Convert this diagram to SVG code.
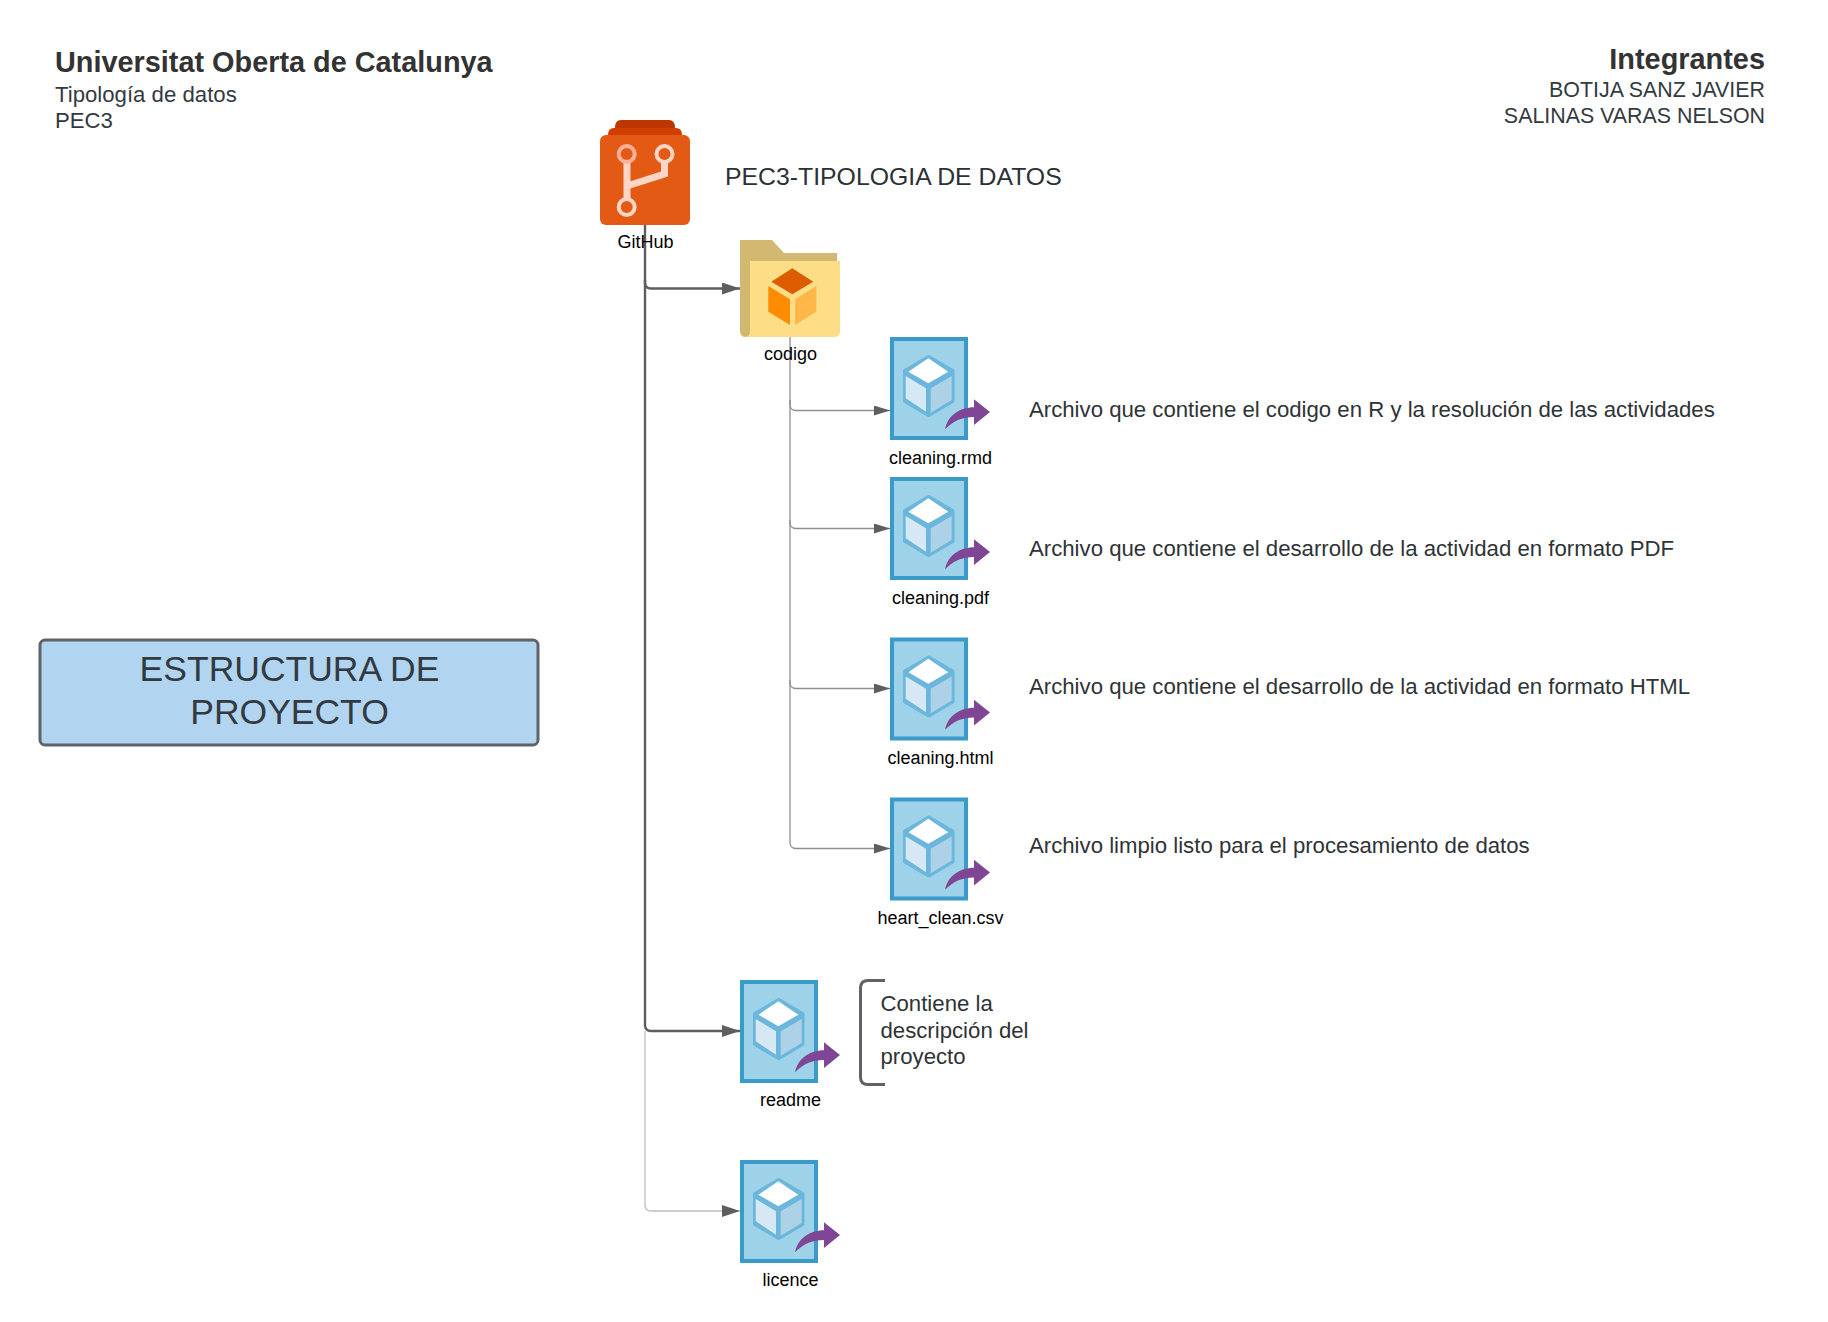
<svg xmlns="http://www.w3.org/2000/svg" xmlns:xlink="http://www.w3.org/1999/xlink" width="1828" height="1322" viewBox="0 0 1828 1322">
<style>
text{font-family:"Liberation Sans",Arial,sans-serif;fill:#333a3f}
.lab{font-size:18px;fill:#000;text-anchor:middle}
.desc{font-size:22.200px;fill:#2f3336}
.conn{fill:none}
.thick{stroke:#5e5e5e;stroke-width:2.4}
.thin{stroke:#8f8f8f;stroke-width:1.3}
.light{stroke:#bdbdbd;stroke-width:1.3}
</style>
<defs>
<marker id="ah" viewBox="0 0 18 12" refX="18" refY="6" markerUnits="userSpaceOnUse" markerWidth="18" markerHeight="12" orient="auto"><path d="M0 0L18 6L0 12Z" fill="#5e5e5e"/></marker>
<marker id="ahs" viewBox="0 0 16 10" refX="16" refY="5" markerUnits="userSpaceOnUse" markerWidth="16" markerHeight="10" orient="auto"><path d="M0 0L16 5L0 10Z" fill="#5e5e5e"/></marker>
<g id="file">
<rect x="2" y="2" width="74" height="99" fill="#9dd2e9" stroke="#3a9ac9" stroke-width="4"/>
<path d="M38.700 20L62.500 34V64L38.700 78L15 64V34Z" fill="#6bb6dc" stroke="#6bb6dc" stroke-width="4" stroke-linejoin="round"/>
<path d="M38.300 21.300L58.300 34.700L38.300 46.300L18.300 34.700Z" fill="#fff"/>
<path d="M15.700 39L36 51.300V74.700L15.700 61.300Z" fill="#d6e8f3"/>
<path d="M40.700 51.300L61.700 39V63L40.700 75.700Z" fill="#add1e7"/>
<path d="M55 92.300C58 78 70 70.500 84 70.300V62.300L100 75L84 88V80C72 80 63 84 55 92.300Z" fill="#7f4696"/>
</g>
</defs>
<rect width="1828" height="1322" fill="#fff"/>
<g id="connectors" class="conn">
<path class="light" d="M645 1031V1205Q645 1211 651 1211H740" marker-end="url(#ah)"/>
<path class="thin" d="M790 337V404.500Q790 410.500 796 410.500H890" marker-end="url(#ahs)"/>
<path class="thin" d="M790 400V522.500Q790 528.500 796 528.500H890" marker-end="url(#ahs)"/>
<path class="thin" d="M790 520V682.500Q790 688.500 796 688.500H890" marker-end="url(#ahs)"/>
<path class="thin" d="M790 680V842.500Q790 848.500 796 848.500H890" marker-end="url(#ahs)"/>
<path class="thick" d="M645 225V282.500Q645 288.500 651 288.500H740" marker-end="url(#ah)"/>
<path class="thick" d="M645 280V1025Q645 1031 651 1031H740" marker-end="url(#ah)"/>
</g>
<g id="header-left">
<text x="55" y="72" font-size="28.850" font-weight="700" style="fill:#333">Universitat Oberta de Catalunya</text>
<text x="55" y="102" font-size="22.200">Tipología de datos</text>
<text x="55" y="128" font-size="22.200">PEC3</text>
</g>
<g id="header-right" text-anchor="end">
<text x="1765" y="68.500" font-size="28.900" font-weight="700" style="fill:#333">Integrantes</text>
<text x="1765" y="97" font-size="21.400">BOTIJA SANZ JAVIER</text>
<text x="1765" y="123" font-size="21.400">SALINAS VARAS NELSON</text>
</g>
<g id="title-box">
<rect x="40" y="640" width="498" height="105" rx="5" fill="#b1d5f0" stroke="#5f6266" stroke-width="3"/>
<text x="289.500" y="680.500" font-size="35.500" text-anchor="middle">ESTRUCTURA DE</text>
<text x="289.500" y="723.500" font-size="35.500" text-anchor="middle">PROYECTO</text>
</g>
<g id="github">
<path d="M615 128Q615 120 621 120H669Q675 120 675 128V135H615Z" fill="#bf3500"/>
<path d="M608 135Q608 128 614 128H676Q682 128 682 135V140H608Z" fill="#d13f00"/>
<rect x="600" y="135" width="90" height="90" rx="6" fill="#e25a14"/>
<path d="M627 163V200M627 186L664.500 174V163" fill="none" stroke="#ffd6c6" stroke-width="7"/>
<circle cx="626.700" cy="154" r="8" fill="#e25a14" stroke="#ffb09a" stroke-width="4"/>
<circle cx="664.500" cy="154" r="8" fill="#e25a14" stroke="#ffd6c6" stroke-width="4"/>
<circle cx="626.700" cy="207" r="8" fill="#e25a14" stroke="#ffd6c6" stroke-width="4"/>
<text class="lab" x="645.500" y="248">GitHub</text>
</g>
<g id="codigo">
<path d="M740 240H772L784 253H837V330H750V337H746Q740 337 740 331Z" fill="#d2b870"/>
<path d="M750 261H840V331Q840 337 834 337H744Q750 337 750 331Z" fill="#fdde86"/>
<path d="M792.300 268.300L813.300 281.700L792.300 294.300L771.300 281.700Z" fill="#dd5c00"/>
<path d="M768.300 286L790 299.300V325L768.300 311.700Z" fill="#ff8c00"/>
<path d="M795 299.300L816.300 286V311.700L795 325Z" fill="#ffb74a"/>
<text class="lab" x="790.500" y="360">codigo</text>
</g>
<text x="725" y="185" font-size="24.800" style="fill:#2b3136">PEC3-TIPOLOGIA DE DATOS</text>
<g id="cleaning-rmd"><use href="#file" x="890" y="337"/><text class="lab" x="940.500" y="463.700">cleaning.rmd</text></g>
<g id="cleaning-pdf"><use href="#file" x="890" y="477"/><text class="lab" x="940.500" y="604">cleaning.pdf</text></g>
<g id="cleaning-html"><use href="#file" x="890" y="637.500"/><text class="lab" x="940.500" y="764">cleaning.html</text></g>
<g id="heart-clean"><use href="#file" x="890" y="797.500"/><text class="lab" x="940.500" y="923.500">heart_clean.csv</text></g>
<g id="readme"><use href="#file" x="740" y="980"/><text class="lab" x="790.500" y="1106">readme</text></g>
<g id="licence"><use href="#file" x="740" y="1160"/><text class="lab" x="790.500" y="1286">licence</text></g>
<text class="desc" x="1029" y="416.700">Archivo que contiene el codigo en R y la resolución de las actividades</text>
<text class="desc" x="1029" y="555.700">Archivo que contiene el desarrollo de la actividad en formato PDF</text>
<text class="desc" x="1029" y="694">Archivo que contiene el desarrollo de la actividad en formato HTML</text>
<text class="desc" x="1029" y="853.300">Archivo limpio listo para el procesamiento de datos</text>
<g id="bracket-note">
<path d="M885 980.500H868Q860.500 980.500 860.500 988V1077Q860.500 1084.500 868 1084.500H885" fill="none" stroke="#5f6266" stroke-width="3"/>
<text class="desc" x="880.500" y="1011">Contiene la</text>
<text class="desc" x="880.500" y="1037.500">descripción del</text>
<text class="desc" x="880.500" y="1064">proyecto</text>
</g>
</svg>
